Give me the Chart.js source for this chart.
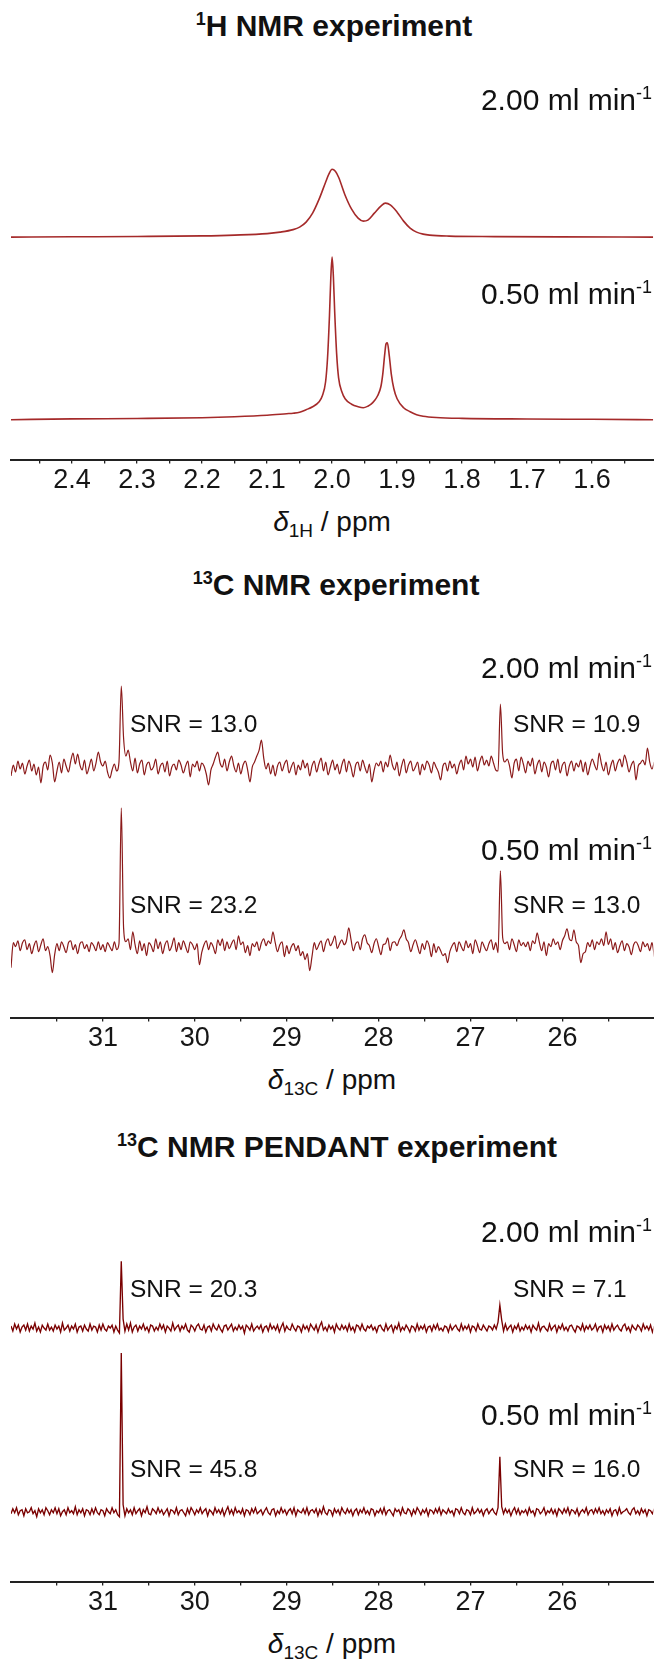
<!DOCTYPE html>
<html lang="en">
<head>
<meta charset="UTF-8">
<title>NMR spectra at two flow rates</title>
<script src="https://cdn.jsdelivr.net/npm/chart.js"></script>
<style>
  html, body { margin: 0; padding: 0; background: #fff; }
  body { width: 654px; height: 1659px; position: relative; overflow: hidden;
         font-family: "Liberation Sans", Arial, sans-serif; color: #111; }
  .panel { position: absolute; left: 0; width: 654px; height: 400px; }
  .lbl { position: absolute; white-space: nowrap; line-height: 1; z-index: 2; }
  .lbl sup { font-size: 0.6em; position: relative; top: -0.6em; vertical-align: baseline; line-height: 0; }
  .lbl sub { font-size: 0.68em; position: relative; top: 0.3em; vertical-align: baseline; line-height: 0; }
</style>
</head>
<body>
<div class="panel" id="p1"><canvas id="c1" width="654" height="400"></canvas></div>
<div class="panel" id="p2"><canvas id="c2" width="654" height="400"></canvas></div>
<div class="panel" id="p3"><canvas id="c3" width="654" height="400"></canvas></div>
<script>
// ---- 1H spectra (chemical shift in ppm, intensity in a.u.) ----
const hShift200 = [2.494, 2.40, 2.30, 2.20, 2.15, 2.10, 2.08, 2.06, 2.05, 2.04,
  2.03, 2.02, 2.01, 2.005, 2.0, 1.995, 1.99, 1.98, 1.97, 1.96,
  1.952, 1.945, 1.935, 1.925, 1.918, 1.91, 1.90, 1.89, 1.88, 1.87,
  1.86, 1.85, 1.82, 1.75, 1.65, 1.506];
const hInt200 = [0, 0.3, 0.6, 1.2, 2, 3.5, 5, 7.5, 10, 15,
  24, 38, 55, 63, 68, 66, 60, 42, 28, 19,
  16, 17, 24, 31, 34, 32, 25, 16, 9, 5,
  3, 2, 1, 0.5, 0.2, 0];

const hShift050 = [2.494, 2.40, 2.30, 2.20, 2.15, 2.10, 2.07, 2.06, 2.05, 2.04,
  2.03, 2.02, 2.015, 2.01, 2.007, 2.004, 2.002, 2.0, 1.998, 1.996,
  1.993, 1.99, 1.985, 1.98, 1.97, 1.96, 1.952, 1.945, 1.94, 1.935,
  1.93, 1.925, 1.922, 1.919, 1.917, 1.915, 1.912, 1.909, 1.905, 1.90,
  1.89, 1.88, 1.87, 1.86, 1.84, 1.80, 1.70, 1.60, 1.506];
const hInt050 = [0, 0.8, 1.2, 2, 3, 4.5, 6, 6.5, 7.5, 10,
  13, 18, 24, 38, 62, 105, 142, 163, 143, 108,
  66, 42, 28, 21, 15.5, 13, 12, 13.5, 15.5, 19,
  24, 33, 46, 66, 76, 77, 64, 46, 31, 21,
  12, 8, 5, 3.5, 2.2, 1.3, 0.7, 0.4, 0];

// ---- 13C spectra, sampled from 32.00 ppm downwards every 0.025 ppm ----
const cStart = 32.0, cStep = 0.025;
const c13Int200 = [
  -8, 3, -4, 7, -1, 5, -6, 2, 8, -3, 4, -7, 1, -15, 2, 6, -2, 13, 5, -14,
  -3, 6, -5, 9, 2, -4, 7, 15, 4, 14, 3, -2, 8, -6, 1, 9, -3, 5, 16, 6,
  2, 7, -4, -10, -2, 4, -3, 6, 82, 30, 12, 18, 6, -3, 10, -5, 4, 8, -7, 3,
  6, -2, 1, 9, -6, 2, 5, -4, 7, -8, 1, 4, -2, 8, 3, -5, 2, 7, -9, 4,
  1, 7, -3, 5, 2, -6, -17, -2, 4, 11, 16, 5, 1, 9, -3, 6, 12, 2, -4, 5,
  -6, 3, 7, -2, -14, 1, 6, 12, 18, 28, 10, -1, 5, -6, 3, -8, 2, 6, -3, 4,
  8, -5, 1, 6, -7, 3, -2, 8, 0, 5, -8, 2, 7, -4, 4, 10, -3, 6, -7, 1,
  8, -2, 4, -6, 3, 9, -4, 7, 1, -9, 3, 6, -3, 8, 1, -5, 4, -14, -3, 5,
  2, 7, -4, 6, 1, 13, 3, -2, 6, -8, 2, 9, -5, 3, 7, -3, 1, 6, -7, 4,
  -2, 7, 3, -5, 6, 1, -4, -12, 2, 5, -3, 7, 0, 4, -6, 3, 8, -2, 12, 4,
  9, 1, 11, -3, 6, 12, 3, 8, 2, 12, 5, -2, -3, 64, 14, 6, 9, 2, -10, 5,
  9, -3, 11, 4, -5, 7, 2, 10, -6, 3, 8, -4, 6, 1, -9, 4, 7, -2, 9, -5,
  3, 6, -8, 2, 7, -3, 5, 1, 8, -4, 6, -7, 2, 9, 3, -2, 15, 4, -3, 6,
  -7, 2, 8, -3, 5, 9, 1, 13, 6, -4, 3, 7, -12, 2, 5, 8, 3, 20, 6, -1,
  6];
const c13Int050 = [
  -20, 5, 1, 7, -3, 5, 8, -2, 4, -6, 2, 7, -4, 3, 9, -3, 1, -8, -25, -7,
  4, -3, 6, 1, -5, 5, 7, -2, 3, -6, 4, 6, -1, 3, -4, 5, 2, -3, 6, -2,
  3, -4, 5, 1, -3, 6, -2, 4, 140, 20, 6, 9, -2, 16, 3, -6, 7, -3, 4, -8,
  5, 2, -4, 9, -1, 6, -6, 3, 7, -3, 2, 10, -4, 5, -2, 7, 1, -5, 6, 3,
  -2, 4, -17, -5, 3, 7, -2, 5, 1, -6, 8, 2, 9, -3, 6, -1, 4, 8, -2, 12,
  3, 6, -5, 2, -8, 4, 1, 6, -3, 5, 9, 2, 7, 4, 16, 5, -4, 3, 6, -9,
  2, -6, 1, 4, -3, 2, -8, -4, -12, -6, -23, -9, 5, -2, 3, 7, -4, 5, 9, 2,
  6, 12, -1, 4, 8, 3, 7, 20, 8, -3, 4, 6, -2, 9, 13, 5, 2, -5, 4, 9,
  1, -7, 3, 4, 10, -3, 5, 6, 2, 8, 12, 18, 9, 5, -4, 3, 8, 1, -6, 4,
  -2, 7, 2, -9, 4, -5, 1, -3, -8, -6, -15, -4, 2, 5, -4, 6, 1, -3, 7, 0,
  4, -6, 8, 2, -5, 6, 1, -3, 4, 8, -2, 5, -5, 77, 10, 4, 6, -2, 9, 3,
  -4, 8, 2, 5, 1, 6, -3, 7, 4, 15, 5, -3, 6, -8, 4, 1, 9, 3, 6, -2,
  7, 12, 19, 9, 7, 18, 6, 2, -15, -6, -4, 5, 1, 8, -2, 6, 3, 9, 2, 16,
  3, 9, -2, 5, -5, 2, 7, -3, 4, 1, -7, 3, 6, 2, -4, 6, 1, 4, -3, 5,
  -9];

// ---- 13C PENDANT spectra, sampled from 32.00 ppm downwards every 0.02 ppm ----
const pStart = 32.0, pStep = 0.02;
const pendInt200 = [
  2, -3, 4, -1, 3, -4, 1, 3, -2, 4, -3, 2, -1, 5, -3, 1, -4, 3, 0, -2,
  4, -2, 1, -3, 3, -1, 2, -4, 5, -2, 0, 3, -3, 2, -1, 4, -4, 1, 2, -3,
  3, -1, -3, 4, -2, 2, 1, -4, 3, -2, 4, -1, -3, 2, 0, 3, -4, 2, -2, -5,
  67, 9, -3, 4, -2, 5, -4, 1, 3, -3, 2, -1, 4, -2, 1, -4, 3, 2, -3, 1,
  -2, 4, -1, 3, -4, 2, 0, -3, 5, -2, 1, 3, -3, 2, -1, 4, -2, -4, 3, 1,
  -3, 2, 4, -1, -2, 3, -4, 1, 2, -3, 4, 0, -2, 3, -1, -4, 2, 3, -2, 1,
  4, -3, 1, -2, 3, -1, 2, -5, 3, 1, -2, 4, -3, 0, 2, -1, 3, -4, 1, 2,
  -3, 4, -1, 2, -2, 3, -4, 1, 5, -3, 2, -1, -2, 4, 0, -3, 2, 1, -4, 3,
  -1, 2, -3, 4, 1, -2, 3, -4, 2, 6, -2, 1, -3, 3, -1, 2, -4, 4, 0, -2,
  3, -1, 2, -3, 4, -2, 1, -4, 3, 2, -2, 4, -1, -3, 2, 0, 3, -2, 1, -4,
  2, 3, -1, -3, 4, -2, 1, 3, -4, 2, -1, 5, -3, 1, -2, 3, 0, -4, 2, 1,
  -3, 4, -2, 2, -1, 3, -4, 1, 2, -3, 3, -1, 4, -2, 0, -3, 2, 1, -4, 3,
  -2, 1, 3, -1, -3, 4, -2, 2, -1, 3, -4, 2, 1, -3, 4, -1, -2, 3, 0, -3,
  2, 1, -2, 3, -1, 6, 23, 8, -3, 4, -2, 1, 3, -4, 2, -1, 4, -3, 1, -2,
  3, -1, 2, -4, 3, 0, -2, 5, -3, 1, 2, -1, -3, 4, -2, 1, 3, -4, 2, -1,
  4, -2, 1, -3, 2, 3, -1, -4, 2, 1, -2, 4, -3, 2, -1, 3, -2, 0, 4, -3,
  1, 2, -4, 3, -1, 2, -3, 4, -2, 1, 3, -1, -3, 2, 4, -2, 1, -4, 3, 0,
  -2, 3, 1, -3, 4, -1, 2, -2, 3, -4, 2];
const pendInt050 = [
  -2, 3, -1, 4, -3, 1, 2, -4, 3, -1, 0, 4, -2, 1, -5, 3, -1, 2, -3, 4,
  1, -3, 2, -1, 4, -2, 3, -4, 0, 2, -3, 4, -1, 1, -2, 5, -3, 2, -1, 3,
  -4, 2, 1, -3, 3, -2, 4, -1, -3, 2, 1, -4, 3, 0, -2, 4, -1, 2, -3, -5,
  159, 7, -4, 3, -1, 2, -3, 4, -2, 1, 3, -4, 2, -1, 5, -2, -3, 3, 1, -2,
  4, -1, 2, -3, 0, 3, -4, 2, 1, -2, 4, -3, 1, 2, -1, -4, 3, -2, 4, 1,
  -3, 2, -1, 4, -2, 1, 3, -4, 2, 0, -3, 4, -1, 2, -2, 3, -4, 1, 5, -2,
  2, -3, 4, -1, 1, -2, 3, -4, 2, 1, -3, 3, -1, 4, -2, 0, 2, -3, 1, 4,
  -1, -3, 2, 3, -4, 1, -2, 4, -1, 2, -3, 1, 3, -2, 4, -4, 2, 0, -1, 3,
  -2, 4, -3, 1, 2, -1, 3, -4, 2, -2, 5, -1, -3, 2, 1, -4, 3, -1, 2, -3,
  4, 0, -2, 3, -1, 2, -4, 1, 3, -3, 2, -1, 4, -2, 1, -3, 3, 2, -4, 1,
  -1, 3, -2, 4, -3, 1, 2, -1, -4, 3, 0, 2, -3, 4, -1, -2, 3, 1, -4, 2,
  -2, 4, 1, -3, 2, -1, 3, -4, 2, 1, -2, 3, -1, 4, -3, 2, 0, -2, 3, -1,
  1, -4, 3, 2, -2, 4, -1, -3, 2, 1, -3, 4, -2, 0, 3, -1, 2, -4, 1, 3,
  -2, 1, 3, -1, -3, 4, 55, 5, -2, 3, -1, 2, -4, 1, 4, -2, 3, -3, 1, -1,
  2, -3, 4, -1, 1, -4, 3, 2, -2, 0, 4, -3, 1, -1, 3, -2, 2, -4, 3, 1,
  -2, 3, -1, 4, -3, 2, 1, -2, 3, -4, 0, 2, -1, 4, -3, 1, 2, -2, 3, -1,
  4, -2, 1, -3, 2, -1, 3, -4, 1, 2, -3, 4, -2, 0, 1, 3, -1, -3, 2, 4,
  -2, 1, -3, 3, -1, 2, -4, 2, 1, -2, 3];

// ---- axis ticks ----
const hMajor = [2.4, 2.3, 2.2, 2.1, 2.0, 1.9, 1.8, 1.7, 1.6];
const hMinor = [2.45, 2.35, 2.25, 2.15, 2.05, 1.95, 1.85, 1.75, 1.65, 1.55];
const cMajor = [31, 30, 29, 28, 27, 26];
const cMinor = [31.5, 30.5, 29.5, 28.5, 27.5, 26.5, 25.5];

function gridShifts(start, step, n) {
  const out = [];
  for (let i = 0; i < n; i++) out.push(start - i * step);
  return out;
}

const FONT = '"Liberation Sans", Arial, sans-serif';

function makePanel(canvasId, axisY, xMin, xMax, major, minor, fmt, traces) {
  const canvas = document.getElementById(canvasId);
  const chart = new Chart(canvas, {
    type: 'line',
    data: {
      datasets: traces.map(t => ({
        data: t.x.map((x, i) => ({ x: x, y: t.offset + t.y[i] })),
        borderColor: t.color,
        borderWidth: t.width,
        pointRadius: 0,
        fill: false,
        cubicInterpolationMode: t.smooth ? 'monotone' : 'default',
        tension: 0
      }))
    },
    options: {
      responsive: false,
      animation: false,
      events: [],
      layout: { padding: { left: 11, right: 0, top: 0, bottom: 0 } },
      plugins: { legend: { display: false }, tooltip: { enabled: false } },
      scales: {
        x: {
          type: 'linear', reverse: true, min: xMin, max: xMax,
          afterBuildTicks: s => {
            s.ticks = major.concat(minor).sort((a, b) => a - b).map(v => ({ value: v }));
          },
          ticks: {
            autoSkip: false, maxRotation: 0, minRotation: 0, padding: 1,
            color: '#161616', font: { family: FONT, size: 27 },
            callback: v => major.includes(v) ? fmt(v) : ''
          },
          grid: { drawOnChartArea: false, drawTicks: true, tickLength: 4, color: '#222', lineWidth: 1.3 },
          border: { display: true, color: '#222', width: 2 }
        },
        y: { display: false, min: 0, max: 400 }
      }
    }
  });
  // one y unit = one pixel above the axis
  const area = chart.chartArea;
  chart.options.scales.y.max = area.bottom - area.top;
  chart.update('none');
  canvas.parentElement.style.top = (axisY - chart.chartArea.bottom) + 'px';
  return chart;
}

const cShift = gridShifts(cStart, cStep, c13Int200.length);
const pShift = gridShifts(pStart, pStep, pendInt200.length);

makePanel('c1', 460, 1.506, 2.494, hMajor, hMinor, v => v.toFixed(1), [
  { x: hShift200, y: hInt200, offset: 223, color: '#a52a2a', width: 1.6, smooth: true },
  { x: hShift050, y: hInt050, offset: 40, color: '#a52a2a', width: 1.6, smooth: true }
]);
makePanel('c2', 1018, 25.01, 32.0, cMajor, cMinor, v => String(v), [
  { x: cShift, y: c13Int200, offset: 250, color: '#8b1a1a', width: 1.2, smooth: true },
  { x: cShift, y: c13Int050, offset: 70, color: '#8b1a1a', width: 1.2, smooth: true }
]);
makePanel('c3', 1582, 25.01, 32.0, cMajor, cMinor, v => String(v), [
  { x: pShift, y: pendInt200, offset: 254, color: '#7a0000', width: 1.35, smooth: false },
  { x: pShift, y: pendInt050, offset: 70, color: '#7a0000', width: 1.35, smooth: false }
]);

// ---- text: titles, flow rates, SNR values, axis titles ----
const texts = [
  { html: '<sup>1</sup>H NMR experiment', cx: 334, base: 36, size: 30, bold: true },
  { html: '2.00 ml min<sup>-1</sup>', right: 652, base: 110, size: 30 },
  { html: '0.50 ml min<sup>-1</sup>', right: 652, base: 304, size: 30 },
  { html: '<i>δ</i><sub>1H</sub> / ppm', cx: 332, base: 532, size: 28 },

  { html: '<sup>13</sup>C NMR experiment', cx: 336, base: 595, size: 30, bold: true },
  { html: '2.00 ml min<sup>-1</sup>', right: 652, base: 678, size: 30 },
  { html: 'SNR = 13.0', left: 130, base: 733, size: 24.5 },
  { html: 'SNR = 10.9', left: 513, base: 733, size: 24.5 },
  { html: '0.50 ml min<sup>-1</sup>', right: 652, base: 860, size: 30 },
  { html: 'SNR = 23.2', left: 130, base: 914, size: 24.5 },
  { html: 'SNR = 13.0', left: 513, base: 914, size: 24.5 },
  { html: '<i>δ</i><sub>13C</sub> / ppm', cx: 332, base: 1090, size: 28 },

  { html: '<sup>13</sup>C NMR PENDANT experiment', cx: 337, base: 1157, size: 30, bold: true },
  { html: '2.00 ml min<sup>-1</sup>', right: 652, base: 1242, size: 30 },
  { html: 'SNR = 20.3', left: 130, base: 1298, size: 24.5 },
  { html: 'SNR = 7.1', left: 513, base: 1298, size: 24.5 },
  { html: '0.50 ml min<sup>-1</sup>', right: 652, base: 1425, size: 30 },
  { html: 'SNR = 45.8', left: 130, base: 1478, size: 24.5 },
  { html: 'SNR = 16.0', left: 513, base: 1478, size: 24.5 },
  { html: '<i>δ</i><sub>13C</sub> / ppm', cx: 332, base: 1654, size: 28 }
];

texts.forEach(t => {
  const el = document.createElement('div');
  el.className = 'lbl';
  el.innerHTML = t.html;
  el.style.fontSize = t.size + 'px';
  if (t.bold) el.style.fontWeight = 'bold';
  // line-height 1: baseline sits 0.8465 em below the top of the box
  el.style.top = (t.base - 0.8465 * t.size) + 'px';
  if (t.cx !== undefined) {
    el.style.left = '0px';
    el.style.width = (2 * t.cx) + 'px';
    el.style.textAlign = 'center';
  } else if (t.right !== undefined) {
    el.style.right = (654 - t.right) + 'px';
  } else {
    el.style.left = t.left + 'px';
  }
  document.body.appendChild(el);
});
</script>
</body>
</html>
